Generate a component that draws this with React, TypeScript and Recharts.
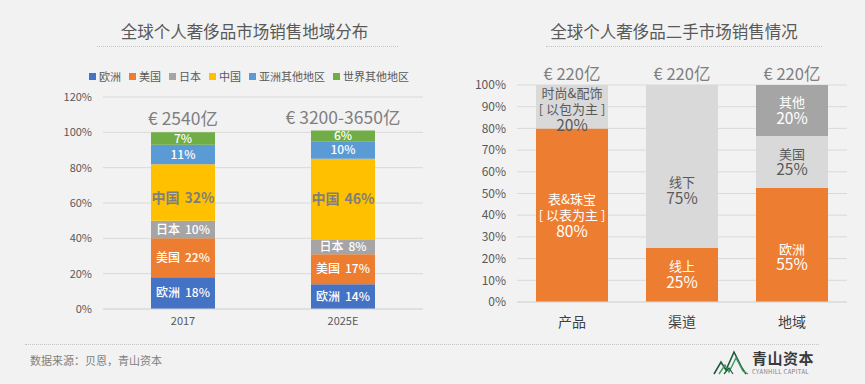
import React from 'react';
import { BarChart, Bar, XAxis, YAxis, CartesianGrid, Legend, LabelList } from 'recharts';

// --- left chart: global personal luxury sales by region ---
const years = ['2017', '2025E'];
const marketTotals = ['€ 2540亿', '€ 3200-3650亿'];
const europeShare = [18, 14];
const usShare = [22, 17];
const japanShare = [10, 8];
const chinaShare = [32, 46];
const restAsiaShare = [11, 10];
const restWorldShare = [7, 6];
const leftTicks = [0, 20, 40, 60, 80, 100, 120];

// --- right chart: second-hand luxury sales ---
const resaleCategories = ['产品', '渠道', '地域'];
const resaleTotals = ['€ 220亿', '€ 220亿', '€ 220亿'];
const mainShare = [80, 25, 52.5];
const secondShare = [20, 75, 24];
const otherShare = [0, 0, 23.5];
const mainLabels = [['表&珠宝', '[ 以表为主 ]', '80%'], ['线上', '25%'], ['欧洲', '55%']];
const secondLabels = [['时尚&配饰', '[ 以包为主 ]', '20%'], ['线下', '75%'], ['美国', '25%']];
const otherLabels = [[], [], ['其他', '20%']];
const rightTicks = [0, 10, 20, 30, 40, 50, 60, 70, 80, 90, 100];

const FONT = '"Noto Sans CJK SC", "Noto Sans", sans-serif';
const AXIS_TEXT = '#595959';
const GRID = '#d9d9d9';

const leftData = years.map((year, i) => ({
  year,
  eu: europeShare[i],
  us: usShare[i],
  jp: japanShare[i],
  cn: chinaShare[i],
  asia: restAsiaShare[i],
  world: restWorldShare[i],
  total: marketTotals[i],
}));

const rightData = resaleCategories.map((cat, i) => ({
  cat,
  main: mainShare[i],
  second: secondShare[i],
  other: otherShare[i],
  mainText: mainLabels[i].join('\n'),
  secondText: secondLabels[i].join('\n'),
  otherText: otherLabels[i].join('\n'),
  total: resaleTotals[i],
}));

const regionSeries = [
  { key: 'eu', name: '欧洲', color: '#4472C4', text: '#ffffff', named: true },
  { key: 'us', name: '美国', color: '#ED7D31', text: '#ffffff', named: true },
  { key: 'jp', name: '日本', color: '#A5A5A5', text: '#ffffff', named: true },
  { key: 'cn', name: '中国', color: '#FFC000', text: '#7f7f7f', named: true },
  { key: 'asia', name: '亚洲其他地区', color: '#5B9BD5', text: '#ffffff', named: false },
  { key: 'world', name: '世界其他地区', color: '#70AD47', text: '#ffffff', named: false },
];

const resaleSeries = [
  { key: 'main', color: '#ED7D31', text: '#ffffff' },
  { key: 'second', color: '#D9D9D9', text: '#595959' },
  { key: 'other', color: '#A5A5A5', text: '#ffffff' },
];

// labels that were hand-placed in the original deck
const nudge: Record<string, number> = { 'cn-0': 6, 'second-0': 3, 'second-1': 24, 'main-2': 12 };

const regionLabel = (s: (typeof regionSeries)[number]) => (props: any) => {
  const x = Number(props.x), y = Number(props.y);
  const w = Number(props.width), h = Number(props.height);
  const cx = x + w / 2;
  const cy = y + h / 2 + (nudge[`${s.key}-${props.index}`] || 0);
  const big = s.key === 'cn';
  return (
    <text
      x={cx}
      y={cy}
      dy="0.35em"
      textAnchor="middle"
      fill={s.text}
      fontSize={big ? 14 : 12}
      fontWeight={big ? 700 : 500}
    >
      {s.named ? (
        <>
          <tspan>{s.name}</tspan>
          <tspan dx={5}>{props.value}%</tspan>
        </>
      ) : (
        `${props.value}%`
      )}
    </text>
  );
};

// total written above a stack
const topLabel = (gap: number, size: number) => (props: any) => {
  const x = Number(props.x), y = Number(props.y), w = Number(props.width);
  if (!props.value) return null;
  return (
    <text x={x + w / 2} y={y - gap} dy="0.35em" textAnchor="middle" fill="#7f7f7f" fontSize={size}>
      {props.value}
    </text>
  );
};

const resaleLabel = (s: (typeof resaleSeries)[number]) => (props: any) => {
  const lines: string[] = props.value ? String(props.value).split('\n') : [];
  if (!lines.length) return null;
  const x = Number(props.x), y = Number(props.y);
  const w = Number(props.width), h = Number(props.height);
  const cx = x + w / 2;
  const lh = 16;
  const shift = s.key === 'other' ? 0 : nudge[`${s.key}-${props.index}`] || 0;
  const start = y + h / 2 - ((lines.length - 1) * lh) / 2 + shift;
  return (
    <text textAnchor="middle" fill={s.text}>
      {lines.map((ln, k) => (
        <tspan key={k} x={cx} y={start + k * lh} dy="0.35em" fontSize={ln.endsWith('%') ? 15.5 : 13}>
          {ln}
        </tspan>
      ))}
    </text>
  );
};

const legendOrder = regionSeries.map((s) => s.name);

const RegionLegend = (props: any) => {
  const items = [...(props.payload || [])].sort(
    (a: any, b: any) => legendOrder.indexOf(a.value) - legendOrder.indexOf(b.value)
  );
  return (
    <div style={{ display: 'flex', alignItems: 'center', fontSize: 11, color: AXIS_TEXT, whiteSpace: 'nowrap' }}>
      {items.map((p: any) => (
        <span key={p.value} style={{ display: 'inline-flex', alignItems: 'center', marginRight: 8 }}>
          <span style={{ width: 7, height: 7, background: p.color, marginRight: 3, display: 'inline-block' }} />
          {p.value}
        </span>
      ))}
    </div>
  );
};

const Logo = () => (
  <svg width={40} height={28} style={{ position: 'absolute', left: 712, top: 349 }}>
    <polyline points="2,25 9,13 14,21 22,3 30,19 34,25" fill="none" stroke="#1f5a3a" strokeWidth={1.6} />
    <polyline points="7,25 13,16 17,23 24,9 31,22 36,25" fill="none" stroke="#3e9a5e" strokeWidth={1.4} />
    <polyline points="12,25 17,19 21,25" fill="none" stroke="#1f5a3a" strokeWidth={1.2} />
  </svg>
);

export default function App() {
  return (
    <div
      style={{
        position: 'absolute',
        left: 0,
        top: 0,
        width: 865,
        height: 384,
        background: '#f2f2f2',
        fontFamily: FONT,
        overflow: 'hidden',
      }}
    >
      {/* titles */}
      <div style={{ position: 'absolute', left: 94, width: 301, top: 19, textAlign: 'center', fontSize: 16.5, color: AXIS_TEXT }}>
        全球个人奢侈品市场销售地域分布
      </div>
      <div style={{ position: 'absolute', left: 97, width: 301, top: 46, borderTop: '1px dotted #c4c4c4' }} />
      <div style={{ position: 'absolute', left: 536, width: 276, top: 19, textAlign: 'center', fontSize: 16.5, color: AXIS_TEXT }}>
        全球个人奢侈品二手市场销售情况
      </div>
      <div style={{ position: 'absolute', left: 546, width: 276, top: 46, borderTop: '1px dotted #c4c4c4' }} />

      {/* left chart */}
      <div style={{ position: 'absolute', left: 0, top: 60 }}>
        <BarChart width={440} height={279} data={leftData} margin={{ top: 37, right: 17, left: 0, bottom: 0 }}>
          <CartesianGrid vertical={false} stroke={GRID} />
          <XAxis
            dataKey="year"
            height={30}
            tickLine={false}
            axisLine={{ stroke: GRID }}
            tick={{ fontSize: 11, fill: AXIS_TEXT }}
          />
          <YAxis
            type="number"
            width={103}
            domain={[0, 120]}
            ticks={leftTicks}
            interval={0}
            axisLine={false}
            tickLine={false}
            tickMargin={5}
            tick={{ fontSize: 11, fill: AXIS_TEXT }}
            tickFormatter={(v) => `${v}%`}
          />
          <Legend
            layout="horizontal"
            verticalAlign="middle"
            align="center"
            wrapperStyle={{ top: 8, left: 89, width: 'auto' }}
            content={<RegionLegend />}
          />
          {regionSeries.map((s) => (
            <Bar key={s.key} dataKey={s.key} name={s.name} stackId="r" fill={s.color} barSize={64} isAnimationActive={false}>
              <LabelList dataKey={s.key} content={regionLabel(s)} />
              {s.key === 'world' && <LabelList dataKey="total" content={topLabel(13, 17.5)} />}
            </Bar>
          ))}
        </BarChart>
      </div>

      {/* right chart */}
      <div style={{ position: 'absolute', left: 440, top: 60 }}>
        <BarChart width={425} height={280} data={rightData} margin={{ top: 25, right: 18, left: 0, bottom: 0 }}>
          <CartesianGrid vertical={false} stroke={GRID} />
          <XAxis
            dataKey="cat"
            height={38}
            tickLine={false}
            axisLine={{ stroke: GRID }}
            tickMargin={9}
            tick={{ fontSize: 14, fill: '#404040' }}
          />
          <YAxis
            type="number"
            width={77}
            domain={[0, 100]}
            ticks={rightTicks}
            interval={0}
            axisLine={false}
            tickLine={false}
            tickMargin={5}
            tick={{ fontSize: 12, fill: AXIS_TEXT }}
            tickFormatter={(v) => `${v}%`}
          />
          {resaleSeries.map((s) => (
            <Bar key={s.key} dataKey={s.key} stackId="s" fill={s.color} barSize={72} isAnimationActive={false}>
              <LabelList dataKey={`${s.key}Text`} content={resaleLabel(s)} />
              {s.key === 'second' && (
                <LabelList dataKey={(d: any) => (d.other ? '' : d.total)} content={topLabel(11, 16.5)} />
              )}
              {s.key === 'other' && <LabelList dataKey="total" content={topLabel(11, 16.5)} />}
            </Bar>
          ))}
        </BarChart>
      </div>

      {/* footer */}
      <div style={{ position: 'absolute', left: 25, width: 794, top: 344, borderTop: '1px dotted #c4c4c4' }} />
      <div style={{ position: 'absolute', left: 30, top: 352, fontSize: 11, color: '#7f7f7f' }}>数据来源：贝恩，青山资本</div>
      <Logo />
      <div style={{ position: 'absolute', left: 752, top: 349, fontSize: 15, fontWeight: 700, color: '#3a3a3a', lineHeight: '17px', letterSpacing: 0.5 }}>
        青山资本
      </div>
      <div style={{ position: 'absolute', left: 752, top: 368, fontSize: 6, color: '#7f7f7f', lineHeight: '7px', letterSpacing: 0.3 }}>
        CYANHILL CAPITAL
      </div>
    </div>
  );
}
